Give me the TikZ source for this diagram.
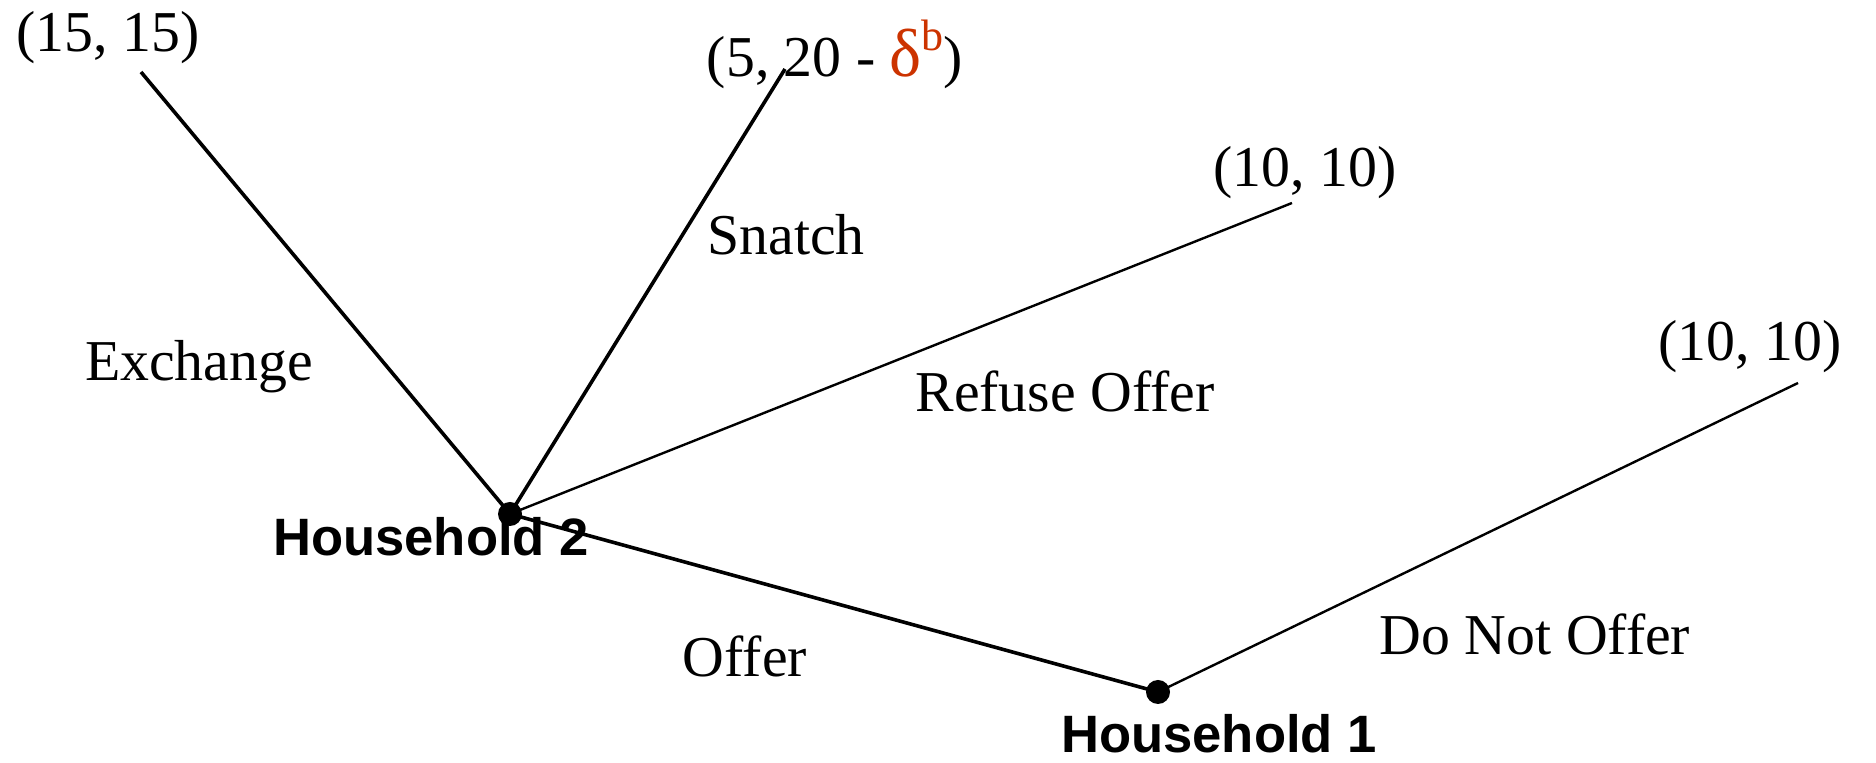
\documentclass[tikz,border=0pt]{standalone}
\usepackage{fontspec}
\setmainfont{Liberation Serif}
\setsansfont{Liberation Sans}
\usetikzlibrary{positioning}
\definecolor{deltared}{RGB}{204,51,0}

\begin{document}
\begin{tikzpicture}[x=0.5pt, y=-0.5pt,
        choice/.style={circle, fill=black, inner sep=0pt, minimum size=12pt},
        player/.style={font=\sffamily\bfseries\fontsize{26.3}{30}\selectfont, inner sep=0pt},
        payoff/.style={font=\fontsize{28.9}{32}\selectfont, inner sep=0pt},
        move/.style={font=\fontsize{28.9}{32}\selectfont, inner sep=0pt},
        branch/.style={line width=1.8pt},
        thinbranch/.style={line width=1.2pt}
    ]
        \useasboundingbox (0,0) rectangle (1876,763);

        % Decision nodes
        \node (h2) [choice] at (510,514) {};
        \node (h1) [choice] at (1158,692) {};
        \node (h2name) [player] at (431,537) {Household 2};
        \node (h1name) [player] at (1219,734) {Household 1};

        % Branch ends
        \coordinate (exend) at (141,72);
        \coordinate (snend) at (785,69);
        \coordinate (rfend) at (1292,203);
        \coordinate (dnend) at (1798,383);

        % Payoffs
        \node (exp) [payoff] at (108,38) {(15, 15)};
        \node (snp) [payoff] at (835,54) {(5, 20 - \textcolor{deltared}{{\fontsize{34}{36}\selectfont δ}\raisebox{13pt}{\fontsize{22}{24}\selectfont b}})};
        \node (rfp) [payoff] at (1305,173) {(10, 10)};
        \node (dnp) [payoff] at (1750,347) {(10, 10)};

        % Branches
        \draw [branch] (h2.center) -- (exend);
        \draw [branch] (h2.center) -- (snend);
        \draw [thinbranch] (h2.center) -- (rfend);
        \draw [branch] (h1.center) -- (h2.center);
        \draw [thinbranch] (h1.center) -- (dnend);

        % Move labels
        \node (exl) [move] at (199,367) {Exchange};
        \node (snl) [move] at (786,235) {Snatch};
        \node (rfl) [move] at (1065,391) {Refuse Offer};
        \node (ofl) [move] at (745,656) {Offer};
        \node (dnl) [move] at (1535,634) {Do Not Offer};

    \end{tikzpicture}
\end{document}
